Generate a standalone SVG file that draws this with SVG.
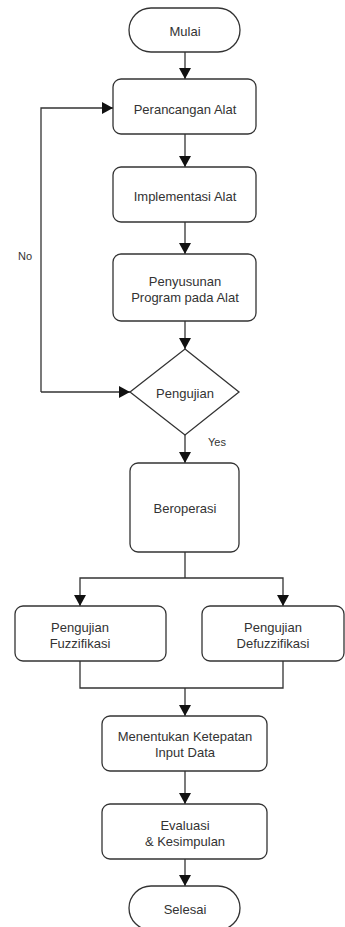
<svg xmlns="http://www.w3.org/2000/svg" width="345" height="927" viewBox="0 0 345 927">
<defs>
<marker id="ah" viewBox="0 0 11 12" refX="11" refY="6" markerWidth="11" markerHeight="12" markerUnits="userSpaceOnUse" orient="auto">
<path d="M0,0 L11,6 L0,12 Z" fill="#111"/>
</marker>
</defs>
<style>
.n{fill:#fff;stroke:#333;stroke-width:1.3}
.t{font-family:"Liberation Sans",Arial,sans-serif;font-size:13px;fill:#333;text-anchor:middle}
.s{font-family:"Liberation Sans",Arial,sans-serif;font-size:11px;fill:#333;text-anchor:middle}
.c{fill:none;stroke:#333;stroke-width:1.3}
.a{marker-end:url(#ah)}
</style>
<rect width="345" height="927" fill="#fff"/>
<g id="connectors">
<line class="c a" x1="185" y1="52" x2="185" y2="79"/>
<line class="c a" x1="185" y1="134" x2="185" y2="167"/>
<line class="c a" x1="185" y1="222" x2="185" y2="254"/>
<line class="c a" x1="185" y1="321" x2="185" y2="349"/>
<line class="c a" x1="185" y1="435" x2="185" y2="463"/>
<polyline class="c a" points="41,392 41,108 113,108"/>
<line class="c a" x1="41" y1="392" x2="130" y2="392"/>
<polyline class="c" points="185,552 185,578"/>
<polyline class="c a" points="185,578 80,578 80,606"/>
<polyline class="c a" points="185,578 283,578 283,606"/>
<polyline class="c" points="80,661 80,688 283,688 283,661"/>
<line class="c a" x1="185" y1="688" x2="185" y2="716"/>
<line class="c a" x1="185" y1="771" x2="185" y2="804"/>
<line class="c a" x1="185" y1="859" x2="185" y2="886"/>
<text class="s" x="25" y="260">No</text>
<text class="s" x="217" y="446">Yes</text>
</g>
<g id="mulai"><rect class="n" x="129" y="8" width="111" height="44" rx="22"/><text class="t" x="185" y="36">Mulai</text></g>
<g id="perancangan"><rect class="n" x="113" y="79" width="143" height="55" rx="8"/><text class="t" x="185" y="114">Perancangan Alat</text></g>
<g id="implementasi"><rect class="n" x="113" y="167" width="143" height="55" rx="8"/><text class="t" x="185" y="201">Implementasi Alat</text></g>
<g id="penyusunan"><rect class="n" x="113" y="254" width="143" height="67" rx="8"/><text class="t" x="185" y="286">Penyusunan</text><text class="t" x="185" y="302">Program pada Alat</text></g>
<g id="pengujian"><polygon class="n" points="185,349 239,392 185,435 130,392"/><text class="t" x="185" y="398">Pengujian</text></g>
<g id="beroperasi"><rect class="n" x="130" y="463" width="109" height="89" rx="8"/><text class="t" x="185" y="513">Beroperasi</text></g>
<g id="fuzzifikasi"><rect class="n" x="15" y="606" width="151" height="55" rx="8"/><text class="t" x="80" y="632">Pengujian</text><text class="t" x="80" y="648">Fuzzifikasi</text></g>
<g id="defuzzifikasi"><rect class="n" x="202" y="606" width="142" height="55" rx="8"/><text class="t" x="273" y="632">Pengujian</text><text class="t" x="273" y="648">Defuzzifikasi</text></g>
<g id="menentukan"><rect class="n" x="102" y="716" width="165" height="55" rx="8"/><text class="t" x="185" y="741">Menentukan Ketepatan</text><text class="t" x="185" y="757">Input Data</text></g>
<g id="evaluasi"><rect class="n" x="102" y="804" width="165" height="55" rx="8"/><text class="t" x="185" y="830">Evaluasi</text><text class="t" x="185" y="846">&amp; Kesimpulan</text></g>
<g id="selesai"><rect class="n" x="129" y="886" width="111" height="44" rx="22"/><text class="t" x="185" y="914">Selesai</text></g>
</svg>
